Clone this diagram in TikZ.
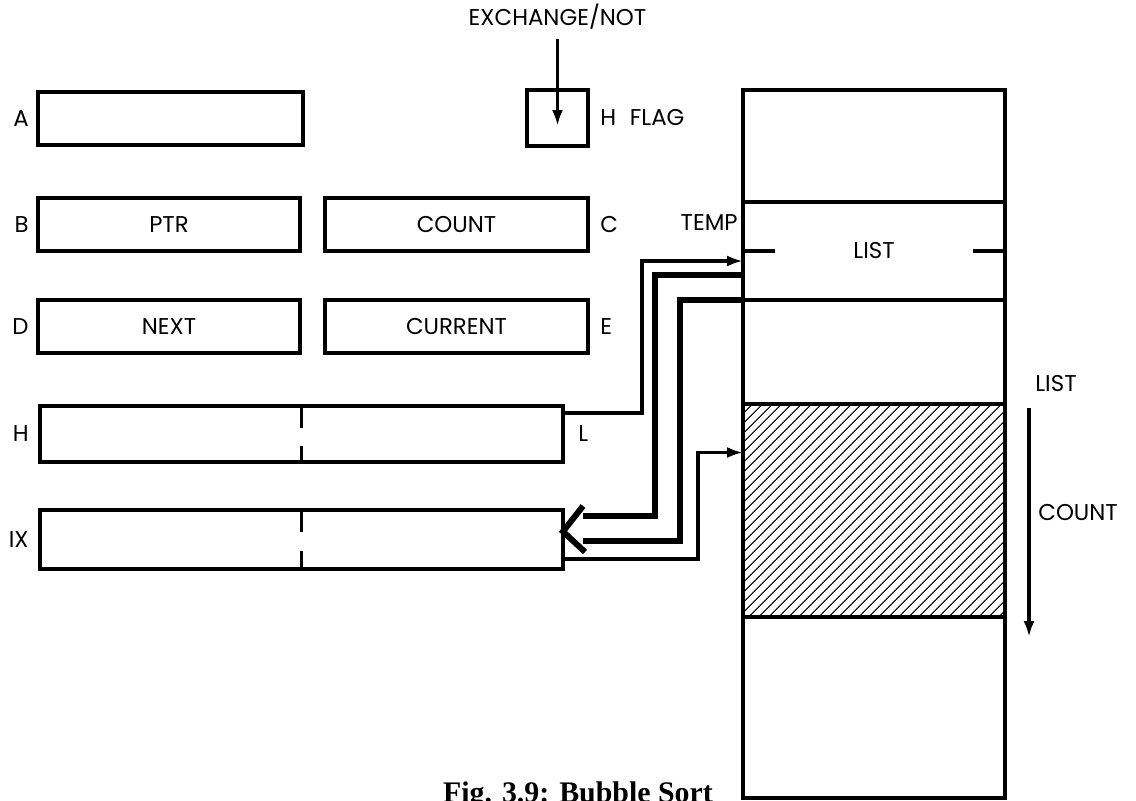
\documentclass[tikz,border=0pt]{standalone}
\usepackage{fontspec}
\setmainfont{Poppins}
\newfontfamily\capfont{Liberation Serif}
\usepackage{tikz}
\usetikzlibrary{positioning,arrows.meta,calc,patterns.meta}

\begin{document}
\begin{tikzpicture}[x=0.2mm, y=-0.2mm,
    reg/.style={rectangle, draw=black, line width=2pt, inner sep=0pt, outer sep=0pt, anchor=north west, minimum height=10.6mm, font=\fontsize{13}{15}\selectfont},
    cell/.style={rectangle, draw=black, line width=2pt, inner sep=0pt, outer sep=0pt, minimum width=52.4mm, font=\fontsize{13}{15}\selectfont},
    lbl/.style={inner sep=0pt, font=\fontsize{13}{15}\selectfont},
    wire/.style={line width=2pt},
    fatwire/.style={line width=3.4pt},
    tip/.style={-{Latex[length=3.2mm,width=2.2mm]}}
]
\useasboundingbox (0,0) rectangle (1136,800);

% registers
\node[reg, minimum width=53mm] (regA) at (38,92) {};
\node[lbl, left=1.8mm of regA] {A};

\node[reg, minimum width=52.4mm] (regB) at (38,198) {PTR};
\node[lbl, left=1.8mm of regB] {B};

\node[reg, minimum width=52.6mm] (regC) at (325,198) {COUNT};
\node[lbl, right=2.4mm of regC] {C};

\node[reg, minimum width=52.4mm] (regD) at (38,300) {NEXT};
\node[lbl, left=1.8mm of regD] {D};

\node[reg, minimum width=52.6mm] (regE) at (325,300) {CURRENT};
\node[lbl, right=2.4mm of regE] {E};

\node[reg, minimum width=104.6mm, minimum height=11.2mm] (regH) at (40,406) {};
\node[lbl, left=2.2mm of regH] {H};
\node[lbl, right=3mm of regH] {L};
\draw[wire] (regH.north) -- ++(0,22);
\draw[wire] (regH.south) -- ++(0,-16);

\node[reg, minimum width=104.6mm, minimum height=11.8mm] (regIX) at (40,510) {};
\node[lbl, left=2.2mm of regIX] {IX};
\draw[wire] (regIX.north) -- ++(0,22);
\draw[wire] (regIX.south) -- ++(0,-18);

% flag
\node[reg, minimum width=12.2mm, minimum height=11.2mm] (regFlag) at (527,90) {};
\node[lbl, right=2.4mm of regFlag] (flagLbl) {H\hspace{0.6em}FLAG};
\node[lbl, above=12mm of regFlag] (exch) {EXCHANGE/NOT};
\draw[wire, tip] ([yshift=-1.8mm]exch.south) -- ($(regFlag.center)+(0,8)$);

% memory
\node[cell, anchor=north west, minimum height=22.4mm] (cellTop) at (743,90) {};
\node[cell, minimum height=19.6mm, below=0pt of cellTop] (cellTemp) {LIST};
\node[cell, minimum height=20.8mm, below=0pt of cellTemp] (cellNext) {};
\node[cell, minimum height=42.6mm, below=0pt of cellNext,
      pattern={Lines[angle=45,distance=4pt,line width=0.6pt]}] (cellList) {};
\node[cell, minimum height=36.2mm, below=0pt of cellList] (cellEnd) {};
\draw[wire] (cellTemp.west) -- ++(32,0);
\draw[wire] (cellTemp.east) -- ++(-32,0);
\node[lbl, anchor=east] (temp) at ($(cellTemp.north west)+(-5,21)$) {TEMP};

\coordinate (cntTop) at ($(cellList.north east)+(24,4)$);
\coordinate (cntEnd) at ($(cellList.south east)+(24,20)$);
\draw[wire, tip] (cntTop) -- (cntEnd);
\node[lbl, anchor=west] (listLbl) at ($(cellList.north east)+(30,-21)$) {LIST};
\node[lbl, anchor=west] (countLbl) at ($(cntTop)+(9,104)$) {COUNT};

% connectors
\coordinate (ixIn1) at ($(regIX.north east)+(20,6)$);
\coordinate (ixIn2) at ($(regIX.north east)+(20,31)$);
\coordinate (ixTip) at ($(regIX.east)+(0,-8)$);
\draw[wire, tip] ($(regH.north east)+(0,7)$) -- ++(79,0) |- ($(cellTemp.west)+(0,10)$);
\draw[fatwire] ($(cellTemp.west)+(0,24)$) -- ++(-88,0) |- (ixIn1);
\draw[fatwire] (cellTemp.south west) -- ++(-63,0) |- (ixIn2);
\draw[fatwire, line join=miter] ($(regIX.north east)+(20,-4)$) -- (ixTip) -- ($(regIX.north east)+(22,42)$);
\draw[wire, tip] ($(regIX.south east)+(0,-10)$) -- ++(135,0) |- ($(cellList.west)+(0,-58)$);

\node[font=\capfont\bfseries\fontsize{17}{20}\selectfont, anchor=north] (caption) at (578,776) {Fig. 3.9: Bubble Sort};

\end{tikzpicture}
\end{document}
